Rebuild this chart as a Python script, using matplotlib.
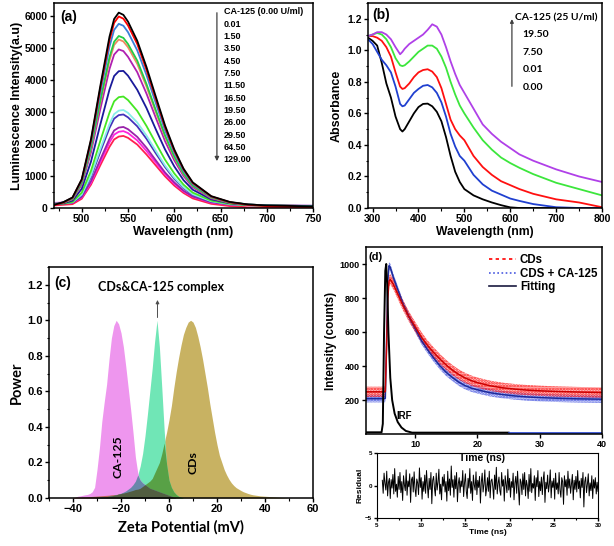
import numpy as np
import matplotlib
matplotlib.use("Agg")
import matplotlib.pyplot as plt
from matplotlib.lines import Line2D
from matplotlib.ticker import MultipleLocator

# ---- (a) luminescence spectra ----
wl_a = [470, 480, 490, 500, 510, 520, 530, 535, 540, 545, 550, 560, 570,
        580, 590, 600, 610, 620, 640, 660, 680, 700, 750]
spectra_a = [
    [100, 180, 330, 900, 2150, 3800, 5350, 5900, 6100, 6030, 5820, 5220, 4400, 3480, 2580, 1830, 1230, 800, 370, 190, 110, 80, 50],
    [90, 170, 320, 880, 2100, 3720, 5240, 5780, 5980, 5910, 5700, 5120, 4310, 3410, 2530, 1790, 1210, 780, 360, 180, 100, 60, 20],
    [110, 180, 310, 850, 2020, 3580, 5040, 5560, 5750, 5690, 5490, 4920, 4150, 3280, 2430, 1730, 1160, 750, 350, 180, 110, 80, 50],
    [110, 170, 290, 790, 1890, 3340, 4710, 5190, 5370, 5310, 5120, 4600, 3870, 3060, 2270, 1610, 1080, 700, 330, 170, 110, 80, 60],
    [120, 170, 280, 780, 1850, 3280, 4610, 5090, 5260, 5200, 5020, 4500, 3790, 3000, 2230, 1580, 1060, 690, 320, 170, 110, 80, 60],
    [120, 170, 270, 730, 1740, 3080, 4340, 4790, 4950, 4900, 4720, 4240, 3570, 2820, 2090, 1490, 1000, 650, 300, 160, 110, 80, 60],
    [110, 150, 230, 600, 1450, 2600, 3700, 4120, 4270, 4280, 4130, 3690, 3120, 2460, 1830, 1300, 870, 570, 270, 150, 100, 80, 60],
    [120, 140, 190, 480, 1160, 2090, 2980, 3330, 3460, 3480, 3370, 3030, 2560, 2030, 1510, 1080, 730, 480, 230, 130, 90, 70, 60],
    [140, 150, 180, 420, 1020, 1840, 2620, 2930, 3040, 3060, 2970, 2670, 2260, 1790, 1330, 950, 650, 430, 210, 120, 90, 80, 70],
    [130, 140, 170, 400, 970, 1750, 2500, 2790, 2900, 2920, 2830, 2550, 2160, 1710, 1280, 910, 620, 410, 200, 120, 90, 70, 60],
    [150, 160, 170, 350, 840, 1510, 2160, 2420, 2510, 2530, 2460, 2220, 1880, 1490, 1110, 800, 540, 360, 180, 110, 90, 80, 70],
    [160, 170, 170, 330, 790, 1430, 2050, 2290, 2380, 2400, 2340, 2110, 1780, 1420, 1060, 760, 520, 350, 170, 110, 90, 80, 70],
    [80, 100, 120, 290, 730, 1330, 1910, 2140, 2230, 2250, 2190, 1980, 1670, 1330, 990, 700, 470, 300, 130, 60, 20, 5, 0],
]
labels_a = ["CA-125 (0.00 U/ml)", "0.01", "1.50", "3.50", "4.50", "7.50", "11.50",
            "16.50", "19.50", "26.00", "29.50", "64.50", "129.00"]
colors_a = ["black", "#ff0000", "#3a80d8", "#22cc44", "#f08a60", "#b020b0", "#1a1a9a",
            "#44e622", "#88eee8", "#4433bb", "#9922aa", "#ff22dd", "#ff2050"]

# ---- (b) absorbance ----
wl_b = [290, 300, 310, 320, 330, 340, 350, 360, 365, 370, 380, 390, 400, 410, 420,
        430, 440, 450, 460, 470, 480, 490, 500, 520, 540, 560, 580, 600, 620, 650,
        700, 750, 800]
abs_000 = [1.08, 1.06, 1.03, 0.92, 0.79, 0.70, 0.58, 0.50, 0.485, 0.50, 0.55, 0.60, 0.64, 0.66, 0.662,
           0.645, 0.61, 0.55, 0.45, 0.33, 0.23, 0.165, 0.12, 0.08, 0.055, 0.035, 0.018, 0.004, 0.0, 0.0,
           0.0, 0.0, 0.0]
abs_001 = [1.07, 1.04, 0.99, 0.94, 0.905, 0.86, 0.77, 0.66, 0.645, 0.65, 0.69, 0.73, 0.755, 0.775, 0.78,
           0.765, 0.73, 0.67, 0.58, 0.47, 0.39, 0.33, 0.30, 0.21, 0.15, 0.11, 0.085, 0.06, 0.045, 0.025,
           0.005, 0.0, 0.0]
abs_750 = [1.09, 1.09, 1.08, 1.06, 1.02, 0.96, 0.86, 0.77, 0.755, 0.76, 0.79, 0.83, 0.86, 0.875, 0.88,
           0.865, 0.83, 0.76, 0.66, 0.56, 0.50, 0.46, 0.43, 0.33, 0.26, 0.21, 0.17, 0.145, 0.12, 0.09,
           0.055, 0.035, 0.005]
abs_1950 = [1.09, 1.10, 1.11, 1.10, 1.07, 1.02, 0.95, 0.905, 0.90, 0.905, 0.93, 0.96, 0.99, 1.01, 1.03,
            1.03, 1.01, 0.96, 0.89, 0.80, 0.72, 0.65, 0.60, 0.51, 0.43, 0.37, 0.32, 0.285, 0.255, 0.215,
            0.16, 0.12, 0.08]
abs_25 = [1.09, 1.10, 1.115, 1.115, 1.10, 1.07, 1.02, 0.975, 0.99, 1.01, 1.04, 1.06, 1.08, 1.10, 1.13,
          1.165, 1.15, 1.10, 1.02, 0.93, 0.85, 0.78, 0.73, 0.63, 0.53, 0.47, 0.42, 0.38, 0.34, 0.30,
          0.245, 0.20, 0.165]
labels_b = ["CA-125 (25 U/ml)", "19.50", "7.50", "0.01", "0.00"]

# ---- (c) zeta potential ----
zeta = np.arange(-40, 51)
power_ca125 = [0.0, 0.005, 0.01, 0.012, 0.015, 0.018, 0.02, 0.025, 0.035, 0.06,
               0.16, 0.28, 0.43, 0.54, 0.64, 0.78, 0.90, 0.97, 1.0, 0.98,
               0.93, 0.85, 0.74, 0.62, 0.50, 0.37, 0.23, 0.14, 0.10, 0.085,
               0.075, 0.065, 0.055, 0.05, 0.045, 0.04, 0.035, 0.03, 0.025, 0.02,
               0.015, 0.01, 0.005] + [0.0] * 48
power_complex = [0.0] * 10 + [0.003, 0.004, 0.005, 0.006, 0.008, 0.01, 0.012, 0.015, 0.018, 0.022,
                              0.027, 0.033, 0.04, 0.05, 0.06, 0.075, 0.095, 0.13, 0.18, 0.25,
                              0.35, 0.47, 0.60, 0.73, 0.88, 1.0, 0.85, 0.62, 0.38, 0.19,
                              0.10, 0.06, 0.035, 0.02, 0.01, 0.005] + [0.0] * 45
power_cds = [0.004, 0.004, 0.005, 0.005, 0.006, 0.006, 0.007, 0.008, 0.009, 0.01,
             0.011, 0.012, 0.013, 0.014, 0.015, 0.016, 0.018, 0.019, 0.02, 0.022,
             0.025, 0.028, 0.031, 0.035, 0.039, 0.043, 0.048, 0.05, 0.055, 0.065,
             0.075, 0.085, 0.095, 0.11, 0.14, 0.17, 0.20, 0.25, 0.31, 0.37,
             0.44, 0.52, 0.62, 0.71, 0.79, 0.86, 0.92, 0.96, 0.99, 1.0,
             0.99, 0.96, 0.91, 0.85, 0.78, 0.70, 0.62, 0.53, 0.45, 0.37,
             0.30, 0.24, 0.20, 0.16, 0.13, 0.105, 0.085, 0.07, 0.058, 0.05,
             0.042, 0.035, 0.03, 0.025, 0.021, 0.018, 0.016, 0.014, 0.012, 0.011,
             0.01, 0.009, 0.008, 0.007, 0.006, 0.005, 0.004, 0.003, 0.002, 0.001, 0.0]

# ---- (d) decay ----
t_d = [2.1, 3, 4, 5, 5.2, 5.4, 5.6, 5.8, 6.0, 6.5, 7, 7.5, 8, 9, 10, 11, 12, 13, 14,
       15, 16, 17, 18, 19, 20, 22, 24, 26, 28, 30, 33, 36, 40]
counts_cds = [248, 248, 248, 248, 250, 500, 800, 900, 910, 880, 840, 800, 760, 690, 630, 570, 520,
              478, 440, 405, 375, 350, 330, 314, 302, 284, 272, 264, 258, 254, 250, 247, 244]
counts_cds_ca = [208, 208, 208, 208, 210, 550, 900, 990, 980, 920, 870, 820, 770, 690, 620, 550, 495,
                 445, 400, 362, 332, 305, 285, 270, 260, 243, 232, 224, 218, 214, 210, 207, 205]
t_irf = [2.1, 4.6, 4.8, 5.0, 5.2, 5.35, 5.5, 5.7, 6.0, 6.3, 6.7, 7.2, 7.8, 8.5, 9.5, 25]
counts_irf = [10, 10, 60, 600, 960, 1000, 880, 600, 330, 200, 120, 70, 38, 18, 8, 8]
t_tail = [25, 40]
counts_tail = [8, 8]

t_res = np.linspace(5.6, 30.0, 245)
residual = [0.8, -1.2, 1.9, 0.3, -0.7, 2.2, -1.6, 0.5, 1.1, -2.0, 0.9, -0.4, 1.7, -1.3, 2.6, -0.9, 0.2, -1.8, 1.4, -0.6,
            2.0, -1.1, 0.6, -2.3, 1.5, 0.1, -0.8, 2.4, -1.5, 0.7, -0.2, 1.8, -2.6, 0.9, 1.3, -1.0, 2.1, -0.5, -1.7, 1.0,
            0.4, -1.4, 2.7, -0.3, 1.2, -2.1, 0.6, -0.9, 1.6, -1.2, 2.3, 0.0, -1.9, 1.1, -0.6, 2.0, -2.8, 0.8, 1.4, -0.4,
            -1.6, 1.9, -0.7, 0.5, 2.5, -1.3, 0.2, -2.2, 1.3, -0.1, 1.7, -1.0, 0.6, -2.4, 2.2, -0.8, 1.0, -1.5, 3.0, -0.3,
            0.9, -1.8, 1.5, -0.5, 2.0, -2.5, 0.3, 1.2, -1.1, 0.7, -0.2, 2.3, -1.7, 0.4, 1.8, -0.9, -2.0, 1.1, -0.4, 2.6,
            -1.2, 0.6, -2.3, 1.6, 0.1, -0.7, 2.1, -1.4, 0.8, -0.3, 1.4, -2.7, 0.5, 1.9, -1.0, 0.2, 2.4, -1.6, -0.5, 1.2,
            -0.9, 2.2, -1.9, 0.7, 1.0, -0.2, -2.1, 1.6, -0.6, 2.8, -1.3, 0.3, 1.3, -0.8, -1.5, 2.0, -0.1, 0.9, -2.4, 1.5,
            0.2, -1.1, 2.5, -0.7, 1.1, -1.8, 0.6, -0.3, 1.9, -2.2, 0.4, 1.4, -1.2, 2.2, -0.5, -3.0, 1.0, 0.5, -1.4, 1.8,
            -0.6, 2.0, -1.6, 0.8, 0.0, -2.0, 1.7, -0.9, 2.6, -1.1, 0.3, -0.4, 1.5, -2.3, 1.2, -0.2, 2.3, -1.7, 0.6, -0.8,
            1.3, -1.4, 0.9, 2.1, -2.6, 0.5, -0.5, 1.6, -1.0, 0.2, 2.4, -1.9, 0.7, -0.3, 1.1, -2.1, 1.9, -0.6, 0.4, -1.3,
            2.0, -0.7, -1.8, 1.2, 0.6, -2.9, 1.5, -0.2, 0.9, -1.5, 2.2, -0.4, 1.0, -1.2, 0.3, 1.7, -2.2, 0.8, -0.6, 1.4,
            -1.0, 2.3, -0.5, 0.7, -1.9, 1.1, -0.3, 2.0, -3.3, 0.6, 1.3, -1.1, 0.2, 1.8, -1.6, 0.4, -0.8, 1.5, -2.0, 0.9,
            -0.4, 1.2, -1.3, 0.5, -0.9]

W, H = 614, 546
CAL = ["Lato", "DejaVu Sans"]

plt.rcParams["font.family"] = ["Liberation Sans", "DejaVu Sans"]
plt.rcParams["font.weight"] = "bold"
plt.rcParams["axes.labelweight"] = "bold"
plt.rcParams["axes.linewidth"] = 1.1
plt.rcParams["hatch.linewidth"] = 1.3


def box(x0, y0, x1, y1):
    return [x0 / W, 1 - y1 / H, (x1 - x0) / W, (y1 - y0) / H]


def style_ticks(ax, size):
    ax.tick_params(which="major", direction="out", length=3, width=1, labelsize=size, pad=1.5)
    ax.tick_params(which="minor", direction="out", length=1.8, width=0.8)


fig = plt.figure(figsize=(W / 100, H / 100), dpi=100)

# (a)
ax = fig.add_axes(box(54, 3, 313, 208))
for vals, c in list(zip(spectra_a, colors_a))[::-1]:
    ax.plot(wl_a, vals, color=c, lw=1.3)
ax.set_xlim(470, 750)
ax.set_ylim(0, 6400)
ax.xaxis.set_major_locator(MultipleLocator(50))
ax.xaxis.set_minor_locator(MultipleLocator(25))
ax.yaxis.set_major_locator(MultipleLocator(1000))
ax.yaxis.set_minor_locator(MultipleLocator(500))
style_ticks(ax, 7.5)
ax.set_xlabel("Wavelength (nm)", fontsize=9, labelpad=1)
ax.set_ylabel("Luminescence Intensity(a.u)", fontsize=9, labelpad=1)
ax.text(0.025, 0.93, "(a)", transform=ax.transAxes, fontsize=10, va="center")
ax.annotate("", xy=(0.629, 0.215), xytext=(0.629, 0.966), xycoords="axes fraction",
            arrowprops=dict(arrowstyle="-|>", lw=0.9, color="0.25", mutation_scale=6))
for i, lab in enumerate(labels_a):
    ax.text(0.655, (208 - 12 - i * 12.3) / 205, lab, transform=ax.transAxes,
            fontsize=6.5, va="center")

# (b)
ax = fig.add_axes(box(368, 3, 602, 208))
for vals, c in [(abs_000, "black"), (abs_001, "#2040d0"), (abs_750, "#ff1010"),
                (abs_1950, "#3ce63c"), (abs_25, "#b040e8")]:
    ax.plot(wl_b, vals, color=c, lw=1.3)
ax.set_xlim(290, 800)
ax.set_ylim(0, 1.3)
ax.xaxis.set_major_locator(MultipleLocator(100))
ax.xaxis.set_minor_locator(MultipleLocator(50))
ax.yaxis.set_major_locator(MultipleLocator(0.2))
ax.yaxis.set_minor_locator(MultipleLocator(0.1))
style_ticks(ax, 7.5)
ax.set_xlabel("Wavelength (nm)", fontsize=8.7, labelpad=1)
ax.set_ylabel("Absorbance", fontsize=9, labelpad=3)
ax.text(0.02, 0.94, "(b)", transform=ax.transAxes, fontsize=10, va="center")
ax.annotate("", xy=(0.615, 0.935), xytext=(0.615, 0.58), xycoords="axes fraction",
            arrowprops=dict(arrowstyle="-|>", lw=0.9, color="0.25", mutation_scale=5))
ax.text(0.628, 0.927, labels_b[0], transform=ax.transAxes, fontsize=7.5, va="center", family=CAL)
for i, lab in enumerate(labels_b[1:]):
    ax.text(0.66, 0.844 - i * 0.085, lab, transform=ax.transAxes, fontsize=7.5,
            va="center", family=CAL)

# (c)
ax = fig.add_axes(box(49, 267, 313, 498))
pk = np.array([238, 150, 238]) / 255
tq = np.array([112, 230, 182]) / 255
kh = np.array([200, 178, 98]) / 255
pc = np.array(power_ca125)
px = np.array(power_complex)
pd_ = np.array(power_cds)
ax.fill_between(zeta, 0, pd_, color=kh, lw=0)
ax.fill_between(zeta, 0, px, color=tq, lw=0)
ax.fill_between(zeta, 0, pc, color=pk, lw=0)
ax.fill_between(zeta, 0, np.minimum(pc, pd_), color=pk * kh, lw=0)
ax.fill_between(zeta, 0, np.minimum(px, pd_), color=tq * kh, lw=0)
ax.fill_between(zeta, 0, np.minimum(pc, px), color=pk * tq, lw=0)
ax.fill_between(zeta, 0, np.minimum(np.minimum(pc, px), pd_), color=pk * tq * kh, lw=0)
ax.set_xlim(-50, 60)
ax.set_ylim(0, 1.3)
ax.xaxis.set_major_locator(MultipleLocator(20))
ax.xaxis.set_minor_locator(MultipleLocator(10))
ax.yaxis.set_major_locator(MultipleLocator(0.2))
ax.yaxis.set_minor_locator(MultipleLocator(0.1))
style_ticks(ax, 8)
ax.set_xlabel("Zeta Potential (mV)", fontsize=10.5, labelpad=4, family=CAL)
ax.set_ylabel("Power", fontsize=10.5, labelpad=2, family=CAL)
ax.text(-47.8, 1.21, "(c)", fontsize=10, va="center")
ax.text(-21.3, 0.23, "CA-125", rotation=90, fontsize=8.8, ha="center", va="center", family=CAL)
ax.text(9.8, 0.2, "CDs", rotation=90, fontsize=8.8, ha="center", va="center", family=CAL)
ax.text(-3.5, 1.19, "CDs&CA-125 complex", fontsize=9, ha="center", va="center", family=CAL)
ax.annotate("", xy=(-4.8, 1.13), xytext=(-4.8, 1.0),
            arrowprops=dict(arrowstyle="-|>", lw=0.7, color="0.3", mutation_scale=5))

# (d)
ax = fig.add_axes(box(366, 247, 602, 434))
lo_red = np.array(counts_cds) - 30
hi_red = np.array(counts_cds) + 30
lo_blue = np.array(counts_cds_ca) - 22
hi_blue = np.array(counts_cds_ca) + 22
ax.fill_between(t_d, lo_blue, hi_blue, facecolor=(0.3, 0.35, 0.9, 0.25), edgecolor="#4a5ae0",
                hatch="......", lw=0)
ax.fill_between(t_d, lo_red, hi_red, facecolor=(1, 0.1, 0.1, 0.25), edgecolor="#ff2020",
                hatch="......", lw=0)
ax.plot(t_d, counts_cds_ca, color="#1c2a9a", lw=1.1)
ax.plot(t_d, counts_cds, color="#cc0000", lw=1.1)
ax.plot(t_irf, counts_irf, color="black", lw=1.4)
ax.plot(t_tail, counts_tail, color="#2040d0", lw=1.2)
ax.set_xlim(2.1, 40)
ax.set_ylim(0, 1100)
ax.set_xticks([10, 20, 30, 40])
ax.set_yticks([200, 400, 600, 800, 1000])
style_ticks(ax, 6.5)
ax.set_ylabel("Intensity (counts)", fontsize=8.5, labelpad=2)
ax.text(0.01, 0.945, "(d)", transform=ax.transAxes, fontsize=8, va="center")
ax.text(7.0, 90, "IRF", fontsize=7)
handles = [Line2D([], [], color="#ff0000", ls=(0, (2, 2)), lw=1.2),
           Line2D([], [], color="#4a5ae0", ls=(0, (1, 1.5)), lw=1.2),
           Line2D([], [], color="#1a1a40", lw=1.2)]
ax.legend(handles, ["CDs", "CDS + CA-125", "Fitting"], loc="upper right",
          bbox_to_anchor=(1.01, 1.0), frameon=False, fontsize=8.3, handlelength=2.4,
          handletextpad=0.3, labelspacing=0.15, borderaxespad=0.2)
fig.text(482 / W, 1 - 458 / H, "Time (ns)", fontsize=7.5, ha="center", va="center")

# residual
ax = fig.add_axes(box(377, 453, 598, 518))
ax.plot(t_res, residual, color="black", lw=0.7)
ax.set_xlim(5, 30)
ax.set_ylim(-5, 5)
ax.set_xticks([5, 10, 15, 20, 25, 30])
ax.xaxis.set_minor_locator(MultipleLocator(2.5))
ax.set_yticks([-5, 0, 5])
style_ticks(ax, 4.5)
ax.tick_params(which="major", length=2)
ax.tick_params(which="minor", length=1.2)
for s in ax.spines.values():
    s.set_linewidth(0.8)
ax.set_xlabel("Time (ns)", fontsize=6, labelpad=0.5)
ax.set_ylabel("Residual", fontsize=6, labelpad=1)

fig.savefig("out.png", dpi=100)
